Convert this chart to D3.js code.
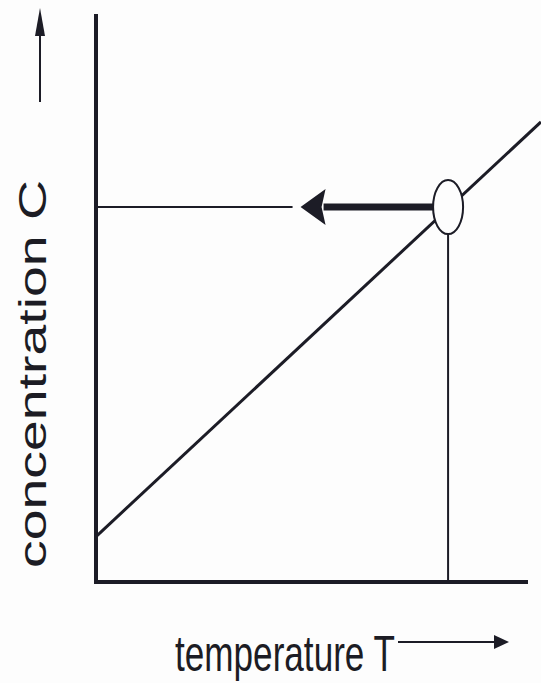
<!DOCTYPE html>
<html>
<head>
<meta charset="utf-8">
<script src="https://d3js.org/d3.v7.min.js"></script>
<style>
  body { margin: 0; background: #fdfdfd; }
  text { font-family: "Liberation Sans", Arial, sans-serif; fill: #1c1c24; }
</style>
</head>
<body>
<svg id="svg" width="541" height="683"></svg>
<script>
// schematic values (arbitrary units)
var lineT = [0, 103];
var lineC = [8, 81];
var opT = [81.5];
var opC = [66];
var guideEndT = [45.5];   // where the thin horizontal guide stops
var xLabel = ["temperature T"];
var yLabel = ["concentration C"];

var svg = d3.select("#svg"),
    ink = "#1c1c26";

var x = d3.scaleLinear().domain([0, 100]).range([96, 528]),
    y = d3.scaleLinear().domain([0, 100]).range([582, 14]);

var line = d3.line().x(d => x(d[0])).y(d => y(d[1]));

// rising line
svg.append("path")
    .attr("d", line(d3.zip(lineT, lineC)))
    .attr("fill", "none").attr("stroke", ink).attr("stroke-width", 3);

// axes (plain lines, no ticks)
svg.append("line").attr("x1", x(0)).attr("x2", x(0)).attr("y1", y(100)).attr("y2", y(0) + 2)
    .attr("stroke", ink).attr("stroke-width", 4);
svg.append("line").attr("x1", x(0) - 2).attr("x2", x(100)).attr("y1", y(0)).attr("y2", y(0))
    .attr("stroke", ink).attr("stroke-width", 4);

var px = x(opT[0]), py = y(opC[0]),
    rx = 15, ry = 27;

// drop line from point down to the T axis
svg.append("line").attr("x1", px).attr("x2", px).attr("y1", py + ry).attr("y2", y(0))
    .attr("stroke", ink).attr("stroke-width", 2);

// thin guide to the C axis
svg.append("line").attr("x1", x(0)).attr("x2", x(guideEndT[0])).attr("y1", py).attr("y2", py)
    .attr("stroke", ink).attr("stroke-width", 2);

// thick arrow from point toward C axis
var tipX = x(guideEndT[0]) + 8, headL = 25, headH = 18;
svg.append("line").attr("x1", tipX + headL - 2).attr("x2", px - rx).attr("y1", py).attr("y2", py)
    .attr("stroke", ink).attr("stroke-width", 7);
svg.append("path")
    .attr("d", "M" + tipX + "," + py + "L" + (tipX + headL) + "," + (py - headH) +
               "L" + (tipX + headL - 4) + "," + py + "L" + (tipX + headL) + "," + (py + headH) + "Z")
    .attr("fill", ink);

// operating point
svg.append("ellipse").attr("cx", px).attr("cy", py).attr("rx", rx).attr("ry", ry)
    .attr("fill", "#fdfdfd").attr("stroke", ink).attr("stroke-width", 2);

// y label + arrow
svg.append("text")
    .attr("transform", "translate(46,568) rotate(-90)")
    .attr("font-size", 38)
    .attr("textLength", 388).attr("lengthAdjust", "spacingAndGlyphs")
    .text(yLabel[0]);
svg.append("line").attr("x1", 40).attr("x2", 40).attr("y1", 102).attr("y2", 30)
    .attr("stroke", ink).attr("stroke-width", 2);
svg.append("path").attr("d", "M40,8L45,36L35,36Z").attr("fill", ink);

// x label + arrow
svg.append("text")
    .attr("x", 175).attr("y", 671)
    .attr("font-size", 50)
    .attr("textLength", 220).attr("lengthAdjust", "spacingAndGlyphs")
    .text(xLabel[0]);
svg.append("line").attr("x1", 398).attr("x2", 496).attr("y1", 642).attr("y2", 642)
    .attr("stroke", ink).attr("stroke-width", 2);
svg.append("path").attr("d", "M509,642L494,635L494,649Z").attr("fill", ink);
</script>
</body>
</html>
